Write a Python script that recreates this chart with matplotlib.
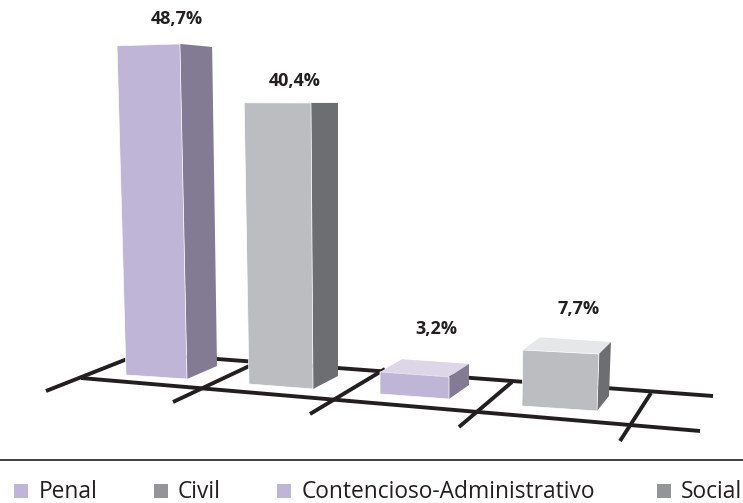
import matplotlib
matplotlib.use("Agg")
import matplotlib.pyplot as plt
from matplotlib.patches import Polygon, Rectangle

# ---- data ----
categories = ["Penal", "Civil", "Contencioso-Administrativo", "Social"]
values = [48.7, 40.4, 3.2, 7.7]
value_labels = ["48,7%", "40,4%", "3,2%", "7,7%"]

# ---- layout (pixels) ----
W, H = 743, 503
# floor footprint of each bar: front-left, front-right, back-right, back-left
footprints = [
    [(126, 375), (187, 379), (217, 366), (156, 362)],
    [(249, 384), (313, 389), (338, 376), (274, 371)],
    [(380, 394), (449, 399), (469, 385), (402, 381)],
    [(522, 406), (597, 411), (609, 396), (539, 392)],
]
# pixels per value unit at each corner, and sideways lean per unit (3-D perspective)
px_per_unit = [
    [6.76, 6.88, 6.55, 6.40],
    [6.96, 7.08, 6.76, 6.58],
    [6.90, 6.90, 6.60, 6.80],
    [7.27, 7.40, 7.01, 7.10],
]
lean_per_unit = [
    [-0.185, -0.145, -0.10, -0.10],
    [-0.12, -0.05, 0.0, 0.0],
    [0.0, 0.0, 0.0, 0.0],
    [0.1, 0.25, 0.25, 0.15],
]
label_pos = [(177, 19), (295, 81), (436, 329), (579, 309)]
front_cols = ["#BFB5D6", "#BBBDC0", "#BFB5D6", "#BBBDC0"]
side_cols = ["#837B93", "#6D6E71", "#837B93", "#6D6E71"]
top_cols = ["#DCD6E8", "#E6E7E8", "#DCD6E8", "#E6E7E8"]
legend_cols = ["#BFB5D6", "#939598", "#BFB5D6", "#939598"]
legend_sq_x = [14, 154, 277, 657]
legend_txt_x = [39, 178, 302, 681]
floor_lines = [
    [(81, 378), (700, 431)],
    [(150, 354), (713, 396)],
    [(46, 391), (150, 350)],
    [(173, 402), (260, 361)],
    [(310, 414), (385, 369)],
    [(459, 427), (512, 382)],
    [(620, 441), (651, 393)],
]
INK = "#231F20"

fig = plt.figure(figsize=(W / 100, H / 100), dpi=100)
ax = fig.add_axes([0, 0, 1, 1])
ax.set_xlim(0, W)
ax.set_ylim(H, 0)
ax.axis("off")

for (p, q) in floor_lines:
    ax.plot([p[0], q[0]], [p[1], q[1]], color=INK, lw=2.8, solid_capstyle="butt", zorder=1)

for i, v in enumerate(values):
    base = footprints[i]
    top = [(x + lean_per_unit[i][k] * v, y - px_per_unit[i][k] * v)
           for k, (x, y) in enumerate(base)]
    z = 2 + i
    ax.add_patch(Polygon([top[0], top[1], top[2], top[3]], closed=True,
                         fc=top_cols[i], ec="none", zorder=z))
    ax.add_patch(Polygon([base[1], base[2], top[2], top[1]], closed=True,
                         fc=side_cols[i], ec="none", zorder=z))
    ax.add_patch(Polygon([base[0], base[1], top[1], top[0]], closed=True,
                         fc=front_cols[i], ec="white", lw=0.5, zorder=z + 0.5))
    ax.text(label_pos[i][0], label_pos[i][1], value_labels[i], ha="center", va="center",
            family="Open Sans", weight="bold", fontsize=13, color=INK, zorder=10)

ax.plot([0, W], [460, 460], color=INK, lw=1.2, zorder=1)
for c, col, sx, tx in zip(categories, legend_cols, legend_sq_x, legend_txt_x):
    ax.add_patch(Rectangle((sx, 484), 14, 14, fc=col, ec="none"))
    ax.text(tx, 497.5, c, ha="left", va="baseline", family="Open Sans",
            fontsize=16.4, color=INK)

fig.savefig("out.png", dpi=100)
